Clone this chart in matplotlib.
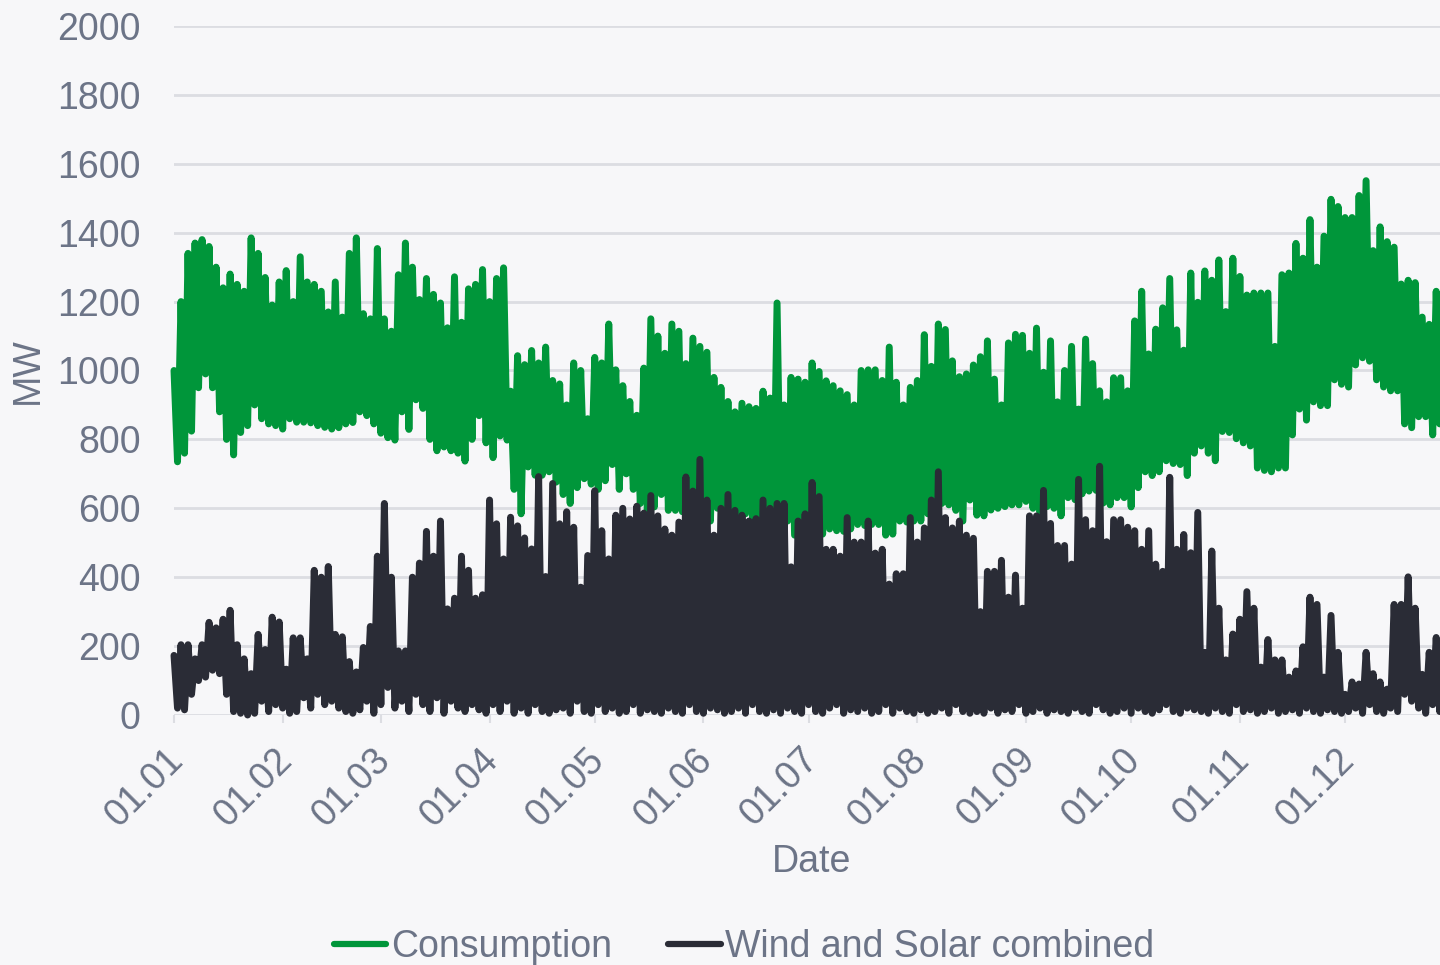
import numpy as np
import matplotlib
matplotlib.use('Agg')
import matplotlib.pyplot as plt
import matplotlib.dates as mdates
from matplotlib.transforms import ScaledTranslation

# two-day blocks from 01.01: daily peak (first day) and trough (second day), MW
cons_hi = [1000, 1200, 1340, 1370, 1380, 1360, 1300, 1240, 1280, 1250,
           1230, 1385, 1340, 1270, 1190, 1257, 1290, 1200, 1330, 1257,
           1250, 1230, 1170, 1257, 1155, 1340, 1385, 1165, 1150, 1354,
           1150, 1114, 1278, 1370, 1300, 1206, 1267, 1221, 1196, 1124,
           1272, 1140, 1237, 1250, 1293, 1200, 1267, 1298, 940, 1043,
           1017, 1058, 1022, 1068, 971, 961, 900, 1022, 1000, 860,
           1038, 1022, 1135, 1002, 956, 910, 870, 1007, 1150, 1100,
           1050, 1135, 1114, 1020, 1094, 1070, 1053, 980, 951, 910,
           880, 905, 895, 890, 940, 920, 1196, 900, 980, 975,
           966, 1022, 997, 970, 956, 941, 930, 900, 1000, 1002,
           1002, 971, 1068, 966, 900, 951, 971, 1104, 1012, 1135,
           1119, 1028, 982, 990, 1016, 1040, 1086, 975, 900, 1080,
           1105, 1102, 1050, 1123, 995, 1086, 909, 1000, 1070, 888,
           1091, 1020, 941, 909, 979, 979, 941, 1144, 1230, 1048,
           1120, 1182, 1267, 1118, 1059, 1283, 1198, 1289, 1262, 1321,
           1171, 1326, 1273, 1219, 1225, 1225, 1225, 1070, 1278, 1283,
           1369, 1326, 1438, 1300, 1390, 1497, 1476, 1444, 1444, 1508,
           1551, 1348, 1417, 1374, 1358, 1251, 1262, 1255, 1155, 1134,
           1230, 1241, 1220]
cons_lo = [735, 760, 824, 950, 990, 950, 880, 800, 755, 820,
           840, 900, 860, 845, 840, 830, 860, 850, 850, 848,
           840, 835, 830, 834, 845, 849, 880, 869, 845, 818,
           805, 798, 880, 829, 915, 890, 800, 767, 778, 767,
           760, 737, 800, 869, 790, 747, 810, 798, 655, 584,
           720, 696, 696, 706, 676, 640, 614, 660, 686, 670,
           655, 680, 727, 655, 700, 655, 614, 594, 604, 640,
           594, 594, 590, 563, 563, 565, 563, 600, 580, 573,
           580, 584, 570, 563, 575, 565, 570, 563, 522, 515,
           512, 522, 525, 540, 535, 533, 540, 553, 550, 553,
           553, 522, 525, 563, 560, 563, 563, 584, 580, 614,
           610, 594, 563, 624, 580, 578, 595, 600, 605, 610,
           610, 620, 600, 588, 605, 600, 578, 631, 625, 642,
           650, 652, 615, 610, 631, 631, 604, 660, 706, 695,
           706, 738, 730, 727, 695, 760, 781, 760, 738, 823,
           820, 802, 790, 781, 717, 710, 706, 717, 717, 813,
           888, 856, 909, 898, 898, 973, 960, 952, 1016, 1037,
           1027, 973, 952, 941, 941, 845, 834, 866, 866, 813,
           845, 830, 840]
wind_hi = [173, 204, 204, 163, 204, 269, 253, 278, 304, 204,
           163, 120, 234, 190, 284, 270, 133, 224, 224, 163,
           420, 400, 431, 234, 227, 155, 125, 196, 257, 461,
           614, 400, 186, 186, 400, 441, 533, 461, 563, 308,
           339, 461, 420, 339, 349, 624, 555, 453, 574, 549,
           514, 482, 692, 402, 672, 555, 590, 545, 371, 463,
           651, 535, 453, 580, 600, 569, 606, 586, 637, 578,
           540, 522, 560, 691, 650, 742, 624, 522, 600, 640,
           594, 580, 563, 570, 624, 600, 614, 614, 430, 563,
           584, 675, 634, 481, 481, 461, 573, 502, 502, 563,
           470, 481, 380, 410, 410, 573, 502, 543, 624, 706,
           573, 543, 563, 522, 513, 300, 417, 417, 449, 342,
           406, 310, 578, 578, 652, 556, 492, 492, 438, 684,
           567, 535, 722, 503, 567, 567, 545, 535, 481, 535,
           438, 417, 690, 481, 524, 471, 588, 182, 476, 310,
           160, 235, 278, 358, 310, 139, 219, 160, 160, 110,
           128, 198, 342, 321, 110, 289, 182, 60, 96, 90,
           182, 120, 96, 75, 321, 321, 401, 310, 118, 182,
           225, 160, 150]
wind_lo = [20, 15, 60, 100, 110, 130, 120, 60, 10, 5, 0, 5, 40, 10, 30, 20, 5, 10, 50, 20, 60, 30, 40, 20,
           10, 5, 15, 40, 5, 30, 80, 20, 40, 10, 60, 30, 10, 50, 5, 40, 20, 10, 30, 15, 5, 30,
           10, 40, 5, 20, 5, 30, 10, 5, 15, 20, 5, 40, 10, 5, 30, 10, 20, 5, 10, 30, 5, 15, 10,
           5, 20, 10, 5, 30, 10, 5, 20, 15, 5, 10, 20, 5, 30, 10, 5, 15, 5, 20, 10, 5, 30,
           10, 5, 20, 30, 5, 15, 10, 20, 5, 10, 30, 5, 20, 10, 5, 15, 5, 10, 20, 5, 30, 10, 5,
           10, 5, 20, 5, 15, 10, 30, 5, 10, 20, 5, 15, 10, 5, 20, 10, 5, 30, 15, 5, 10, 20, 5,
           20, 10, 5, 15, 30, 10, 5, 20, 15, 10, 5, 20, 10, 5, 30, 10, 15, 5, 10, 20, 5, 10, 15,
           5, 20, 10, 5, 15, 10, 5, 10, 20, 5, 30, 10, 5, 20, 10, 60, 40, 20, 5, 30, 10, 40, 20]

series_names = ['Consumption', 'Wind and Solar combined']
start = np.datetime64('2021-01-01T00')

GREEN = '#00963a'
DARK = '#2a2c36'
BG = '#f7f7f9'
GRID = '#dcdde2'
TXT = '#6c7487'
FS = 27

plt.rcParams['font.family'] = ['Liberation Sans', 'DejaVu Sans']

def zigzag(hi, lo):
    v = np.empty(2 * len(hi))
    v[0::2] = hi
    v[1::2] = lo
    return v

cons = zigzag(cons_hi, cons_lo)
wind = zigzag(wind_hi, wind_lo)
t = start + np.arange(len(cons)) * np.timedelta64(24, 'h')

fig = plt.figure(figsize=(14.4, 9.65), dpi=100, facecolor=BG)
ax = fig.add_axes([174/1440, 250/965, 1 - 174/1440, 689/965])
ax.set_facecolor(BG)

l1, = ax.plot(t, cons, color=GREEN, lw=5.0, solid_joinstyle='round',
              solid_capstyle='round', clip_on=False, zorder=3)
l2, = ax.plot(t, wind, color=DARK, lw=5.0, solid_joinstyle='round',
              solid_capstyle='round', clip_on=False, zorder=4)

ax.set_ylim(0, 2000)
ax.set_yticks(np.arange(0, 2001, 200))
ax.set_xlim(start, start + np.timedelta64(8666, 'h'))
ax.grid(axis='y', color=GRID, lw=2.0, zorder=0)
ax.set_axisbelow(True)
for s in ax.spines.values():
    s.set_visible(False)

ax.xaxis.set_major_locator(mdates.MonthLocator())
ax.xaxis.set_major_formatter(mdates.DateFormatter('%d.%m'))
ax.tick_params(axis='y', length=0, pad=24, labelsize=FS, labelcolor=TXT)
ax.tick_params(axis='x', length=6, width=1.5, color=GRID, pad=13,
               labelsize=FS, labelcolor=TXT)
off = ScaledTranslation(-9/100, 0, fig.dpi_scale_trans)
for lab in ax.get_xticklabels():
    lab.set_rotation(45)
    lab.set_ha('right')
    lab.set_va('top')
    lab.set_rotation_mode('anchor')
    lab.set_transform(lab.get_transform() + off)

fig.text(812/1440, 1 - 862/965, 'Date', ha='center', va='center',
         fontsize=FS, color=TXT)
fig.text(28/1440, 1 - 371/965, 'MW', ha='center', va='center',
         rotation=90, fontsize=FS, color=TXT)

fig.legend([l1, l2], series_names, loc='center', ncol=2,
           bbox_to_anchor=(744/1440, 1 - 947/965), frameon=False,
           fontsize=FS, labelcolor=TXT, handlelength=1.4,
           handletextpad=0.12, columnspacing=1.5)
for h in fig.legends[0].legend_handles:
    h.set_linewidth(4.5)

fig.savefig('out.png', dpi=100, facecolor=BG)
